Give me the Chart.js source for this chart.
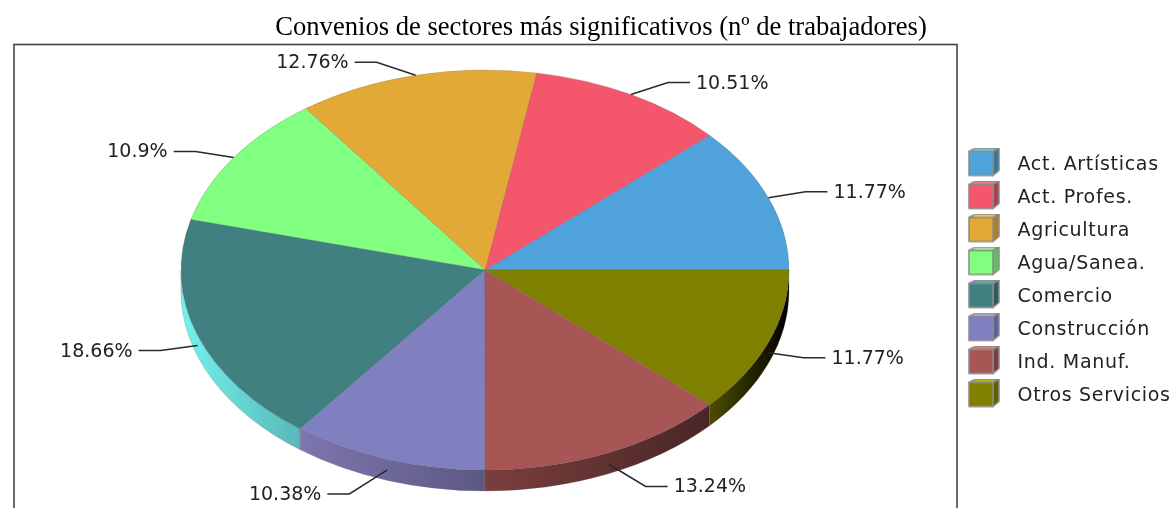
<!DOCTYPE html>
<html>
<head>
<meta charset="utf-8">
<style>html,body{margin:0;padding:0;background:#fff;overflow:hidden}canvas{display:block}</style>
<script src="https://cdn.jsdelivr.net/npm/chart.js@4"></script>
</head>
<body>
<canvas id="c" width="1176" height="508"></canvas>
<script>
const categories = ["Act. Artísticas","Act. Profes.","Agricultura","Agua/Sanea.","Comercio","Construcción","Ind. Manuf.","Otros Servicios"];
const values = [11.77,10.51,12.76,10.9,18.66,10.38,13.24,11.77];
const faceColors = ["#4FA3DA","#F4576C","#E3A937","#80FF80","#408080","#8080C0","#A85555","#808000"];
const topColors = ["#5FDCF0","#F0808F","#FFE040","#B0FFB0","#50B8B8","#B4B4FF","#FF7070","#C0C000"];
const sideColors = ["#3578A0","#B03F4E","#B08028","#60C060","#2C5C5C","#6060A0","#7C3E3E","#606000"];
const wallStart = ["#000","#000","#000","#000","#72F2EE","#7D76AE","#7C3E3E","#4D4D00"];
const wallEnd = ["#000","#000","#000","#000","#58B8B8","#5C5884","#492626","#000000"];
const title = "Convenios de sectores más significativos (nº de trabajadores)";
const leaderBends = [[37,-6],[37,-12],[-39,-13],[-38,-6],[-37,5],[-38,24],[38,23],[35,5]];

const LABEL_FONT = '19px "DejaVu Sans"';
const CX = 485, CY = 270, RX = 304, RY = 200, DEPTH = 21;

function cube(i){
  const w = 40, h = 36, c = document.createElement('canvas');
  c.width = w; c.height = h;
  const g = c.getContext('2d');
  g.lineWidth = 1.5; g.strokeStyle = '#8a8a8a'; g.lineJoin = 'round';
  const poly = (pts, fill) => { g.beginPath(); pts.forEach((p,k)=>k?g.lineTo(p[0],p[1]):g.moveTo(p[0],p[1])); g.closePath(); g.fillStyle = fill; g.fill(); g.stroke(); };
  poly([[1,4],[7,0.8],[31,0.8],[25,4]], topColors[i]);
  poly([[25,4],[31,0.8],[31,23],[25,28]], sideColors[i]);
  poly([[1,4],[25,4],[25,28],[1,28]], faceColors[i]);
  return c;
}

const pie3d = {
  id: 'pie3d',
  beforeDraw(chart){
    const { ctx } = chart;
    ctx.save();
    ctx.fillStyle = '#fff';
    ctx.fillRect(0,0,chart.width,chart.height);
    ctx.strokeStyle = '#444';
    ctx.lineWidth = 1.6;
    ctx.strokeRect(14,44.5,943,chart.height);
    ctx.restore();
  },
  afterLayout(chart){
    const tb = chart.titleBlock; tb.left += 13; tb.right += 13;
    const lg = chart.legend, dx = 954 - lg.left, dy = 142 - lg.top;
    lg.left += dx; lg.top += dy; lg.bottom += dy + 20; lg.right = chart.width;
    if (!lg._spaced) {
      const draw = lg.draw;
      lg.draw = function(...args){
        const c = this.ctx; c.save(); c.letterSpacing = '0.7px';
        draw.apply(this, args);
        c.restore();
      };
      lg._spaced = true;
    }
  },
  beforeDatasetsDraw(chart){
    const { ctx } = chart, meta = chart.getDatasetMeta(0);
    // side wall of the lower half (the flip below makes the angles run counter-clockwise)
    meta.data.forEach((arc,i)=>{
      const a1 = Math.max(arc.startAngle, Math.PI), a2 = Math.min(arc.endAngle, 2*Math.PI);
      if (a2 <= a1) return;
      const x1 = CX + RX*Math.cos(a1), x2 = CX + RX*Math.cos(a2);
      const gr = ctx.createLinearGradient(x1,0,x2,0);
      gr.addColorStop(0, wallStart[i]); gr.addColorStop(1, wallEnd[i]);
      ctx.save();
      ctx.beginPath();
      ctx.ellipse(CX,CY,RX,RY,0,-a1,-a2,true);
      ctx.ellipse(CX,CY+DEPTH,RX,RY,0,-a2,-a1,false);
      ctx.closePath();
      ctx.fillStyle = gr; ctx.fill();
      ctx.strokeStyle = 'rgba(90,90,90,.35)'; ctx.lineWidth = .7; ctx.stroke();
      ctx.restore();
    });
    const a = meta.data[0];
    ctx.save();
    ctx.translate(CX,CY);
    ctx.scale(1,-RY/RX);
    ctx.translate(-a.x,-a.y);
  },
  afterDatasetsDraw(chart){
    const { ctx } = chart, meta = chart.getDatasetMeta(0);
    ctx.restore();
    ctx.save();
    ctx.font = LABEL_FONT;
    ctx.textBaseline = 'middle';
    meta.data.forEach((arc,i)=>{
      const m = (arc.startAngle + arc.endAngle)/2;
      const below = Math.sin(m) < 0;
      const sx = CX + RX*Math.cos(m), sy = CY - RY*Math.sin(m) + (below ? DEPTH/2 : 0);
      const [bx,by] = leaderBends[i];
      const ex = sx + bx, ey = sy + by, dir = bx > 0 ? 1 : -1;
      ctx.strokeStyle = '#2a2a2a'; ctx.lineWidth = 1.5;
      ctx.beginPath(); ctx.moveTo(sx,sy); ctx.lineTo(ex,ey); ctx.lineTo(ex+dir*22,ey); ctx.stroke();
      ctx.fillStyle = '#222';
      ctx.textAlign = dir > 0 ? 'left' : 'right';
      ctx.fillText(values[i] + '%', ex + dir*28, ey + 1);
    });
    ctx.restore();
  }
};

new Chart(document.getElementById('c'), {
  type: 'pie',
  plugins: [pie3d],
  data: {
    labels: categories,
    datasets: [{
      data: values,
      backgroundColor: faceColors,
      borderColor: 'rgba(70,70,70,.22)',
      borderWidth: 1,
      clip: false
    }]
  },
  options: {
    responsive: false,
    animation: false,
    radius: RX,
    rotation: 90,
    layout: { padding: { top: 12 } },
    plugins: {
      tooltip: { enabled: false },
      title: {
        display: true,
        text: title,
        color: '#000',
        font: { family: '"Liberation Serif"', size: 26.6, weight: 'normal', lineHeight: 1.2 },
        padding: { top: 0, bottom: 0 }
      },
      legend: {
        position: 'right',
        align: 'start',
        labels: {
          usePointStyle: true,
          pointStyleWidth: 40,
          boxHeight: 18,
          padding: 14,
          color: '#222',
          font: { family: '"DejaVu Sans"', size: 19 },
          generateLabels: () => categories.map((t,i)=>({ text:t, pointStyle:cube(i), fontColor:'#222', index:i, lineWidth:0, hidden:false, fillStyle:faceColors[i], strokeStyle:'transparent' }))
        }
      }
    }
  }
});
</script>
</body>
</html>
